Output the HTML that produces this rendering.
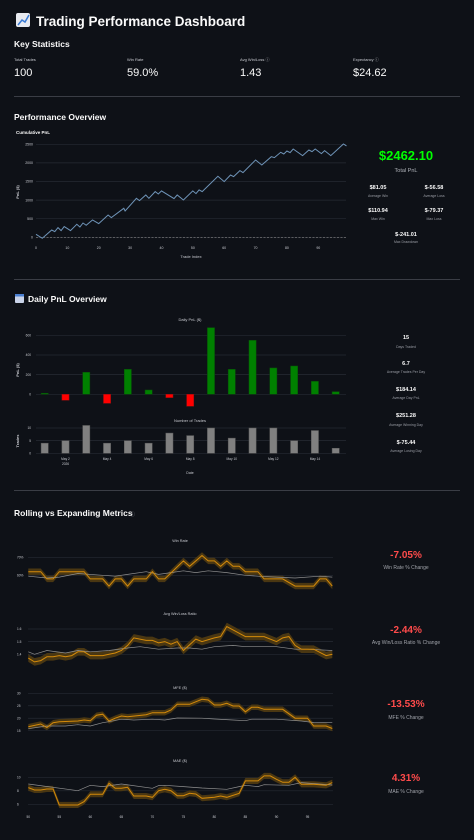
<!DOCTYPE html>
<html><head><meta charset="utf-8"><title>Trading Performance Dashboard</title>
<style>
html,body{margin:0;padding:0;background:#0e1117;width:474px;height:840px;overflow:hidden}
svg{display:block;font-family:"Liberation Sans",sans-serif}
</style></head>
<body>
<svg id="page" width="474" height="840" viewBox="0 0 474 840">
<rect x="0" y="0" width="474" height="840" fill="#0e1117"/>
<g>
<rect x="16" y="13" width="14" height="14" rx="2" fill="#e8eaf0"/>
<polyline points="18,25 22,20 25,22 29,15" fill="none" stroke="#3a7bd5" stroke-width="1.5"/>
</g>
<text x="36" y="26" fill="#fafafa" font-size="13.5" font-weight="bold">Trading Performance Dashboard</text>
<text x="14" y="47" fill="#fafafa" font-size="8.5" font-weight="bold">Key Statistics</text>
<g font-size="4" fill="#c8cad0">
<text x="14" y="61">Total Trades</text>
<text x="127" y="61">Win Rate</text>
<text x="240" y="61">Avg Win/Loss ⓘ</text>
<text x="353" y="61">Expectancy ⓘ</text>
</g>
<g font-size="11" fill="#fafafa">
<text x="14" y="76">100</text>
<text x="127" y="76">59.0%</text>
<text x="240" y="76">1.43</text>
<text x="353" y="76">$24.62</text>
</g>
<rect x="14" y="96" width="446" height="1" fill="#3a3d45"/>

<text x="14" y="120" fill="#fafafa" font-size="8.5" font-weight="bold">Performance Overview</text>
<text x="16" y="134" fill="#fafafa" font-size="4.5" font-weight="bold">Cumulative PnL</text>
<g id="cum"></g>
<g font-weight="bold" text-anchor="middle">
<text x="406" y="160" fill="#00ff00" font-size="13">$2462.10</text>
<text x="406" y="172" fill="#b0b3ba" font-size="5.5" font-weight="normal">Total PnL</text>
<g fill="#fafafa" font-size="5.5">
<text x="378" y="189">$81.05</text>
<text x="434" y="189">$-56.58</text>
<text x="378" y="212">$110.94</text>
<text x="434" y="212">$-79.37</text>
<text x="406" y="236">$-241.01</text>
</g>
<g fill="#9a9da5" font-size="3.5" font-weight="normal">
<text x="378" y="197">Average Win</text>
<text x="434" y="197">Average Loss</text>
<text x="378" y="220">Max Win</text>
<text x="434" y="220">Max Loss</text>
<text x="406" y="243">Max Drawdown</text>
</g>
</g>
<rect x="14" y="279" width="446" height="1" fill="#3a3d45"/>

<g>
<rect x="15" y="294" width="9" height="9" rx="1" fill="#c9d3e8"/>
<rect x="15" y="294" width="9" height="2.5" fill="#4a7fd0"/>
</g>
<text x="28" y="302" fill="#fafafa" font-size="8.5" font-weight="bold">Daily PnL Overview</text>
<g id="daily"></g>
<g id="trades"></g>
<g text-anchor="middle" font-weight="bold">
<g fill="#fafafa" font-size="5.5">
<text x="406" y="339">15</text>
<text x="406" y="365">6.7</text>
<text x="406" y="391">$184.14</text>
<text x="406" y="417">$251.28</text>
<text x="406" y="444">$-75.44</text>
</g>
<g fill="#9a9da5" font-size="3.5" font-weight="normal">
<text x="406" y="348">Days Traded</text>
<text x="406" y="373">Average Trades Per Day</text>
<text x="406" y="399">Average Day PnL</text>
<text x="406" y="426">Average Winning Day</text>
<text x="406" y="452">Average Losing Day</text>
</g>
</g>
<rect x="14" y="490" width="446" height="1" fill="#3a3d45"/>

<text x="14" y="516" fill="#fafafa" font-size="8.5" font-weight="bold">Rolling vs Expanding Metrics</text>
<text x="130" y="516" fill="#8a8d95" font-size="5">ⓘ</text>
<g id="roll"></g>
<g text-anchor="middle">
<g fill="#ff4b4b" font-size="10" font-weight="bold">
<text x="406" y="558">-7.05%</text>
<text x="406" y="633">-2.44%</text>
<text x="406" y="707">-13.53%</text>
<text x="406" y="781">4.31%</text>
</g>
<g fill="#a0a3aa" font-size="5">
<text x="406" y="569">Win Rate % Change</text>
<text x="406" y="644">Avg Win/Loss Ratio % Change</text>
<text x="406" y="719">MFE % Change</text>
<text x="406" y="793">MAE % Change</text>
</g>
</g>
</svg>
<script>
const pnlIdx = [0,2,5,6,7,8,9,11,13,14,15,16,18,20,23,24,28,28.4,32,33,35,36,38,39,40,44,45,47,50,51,52,53,58,60,62,63,65,66,70,72,75,76,78,79,80,81,82,85,87,88,89,91,92,94,98,99];
const pnlVal = [81,-27,197,152,260,179,287,179,349,278,385,323,466,367,600,529,780,708,1048,986,1138,1048,1228,1165,1246,1039,1138,1004,1246,1174,1273,1228,1640,1497,1676,1631,1792,1738,2079,1944,2168,2142,2285,2240,2321,2276,2375,2195,2348,2303,2375,2249,2330,2195,2509,2456];
const pnlYTicks = [0,500,1000,1500,2000,2500];
const pnlXTicks = [0,10,20,30,40,50,60,70,80,90];

const dayLabels = ["May 1","May 2","May 3","May 4","May 5","May 6","May 7","May 8","May 9","May 10","May 11","May 12","May 13","May 14","May 15"];
const dailyPnl = [10,-61,224,-92,254,44,-34,-122,678,254,549,268,288,132,27];
const dailyTrades = [4,5,11,4,5,4,8,7,10,6,10,10,5,9,2];
const dailyYTicks = [0,200,400,600];
const tradesYTicks = [0,5,10];
const dateTickLabels = ["May 2","May 4","May 6","May 8","May 10","May 12","May 14"];

const winIdx = [50,52,53,54,55,59,60,62,63,64,65,66,67,69,70,71,72,75,76,78,79,80,81,82,83,84,85,87,88,91,93,96,97,98,99];
const winRoll = [62,62,58,58,62,62,58,58,54,58,58,54,58,58,62,58,58,68,65,71,68,68,65,68,65,65,62,62,58,58,54,54,58,58,54];
const winExpIdx = [50,53,55,58,62,64,66,69,71,73,75,77,79,82,85,87,90,93,97,99];
const winExp = [59.5,58.5,59,61,60,59.5,60.5,62,60.5,61.5,62.5,61.5,62.5,61.5,60,59.5,59,58.5,59.5,59];

const awlIdx = [50,51,52,53,54,55,56,57,58,59,60,62,63,64,65,66,67,69,70,71,72,73,74,75,77,78,80,81,82,85,87,88,90,91,92,93,94,96,98,99];
const awlRoll = [1.37,1.34,1.35,1.38,1.38,1.39,1.38,1.39,1.42,1.42,1.39,1.39,1.40,1.41,1.43,1.47,1.53,1.51,1.51,1.49,1.50,1.48,1.50,1.43,1.52,1.50,1.53,1.54,1.62,1.54,1.54,1.54,1.50,1.53,1.54,1.47,1.44,1.44,1.39,1.40];
const awlExpIdx = [50,51,53,56,58,60,63,66,68,71,74,76,78,80,83,85,87,90,93,95,99];
const awlExp = [1.42,1.40,1.43,1.41,1.43,1.42,1.43,1.45,1.46,1.44,1.45,1.45,1.44,1.46,1.47,1.46,1.46,1.46,1.44,1.44,1.43];

const mfeIdx = [50,52,53,54,55,58,59,60,61,62,63,64,65,66,69,70,72,73,74,76,78,79,80,81,82,83,84,85,86,87,88,91,93,95,96,98,99];
const mfeRoll = [16.6,17.7,16.3,18.2,18.6,18.9,19.3,19.0,21.2,21.6,18.9,20.0,20.9,20.6,21.4,22.2,22.2,23.3,25.6,25.6,27.6,27.3,25.3,25.3,26.0,24.9,24.9,22.6,24.4,24.4,23.6,23.6,20.0,20.0,16.9,16.9,15.9];
const mfeExpIdx = [50,53,56,58,60,62,63,65,67,70,72,74,78,80,83,85,86,90,94,96,99];
const mfeExp = [15.8,16.9,16.9,17.4,16.9,18.2,18.6,19.6,19.3,19.6,19.3,20.1,20.0,19.7,19.3,19.0,19.6,19.6,18.9,18.3,18.2];

const maeIdx = [50,51,52,53,54,55,58,59,60,62,63,64,65,66,67,69,70,71,72,73,74,75,76,77,78,80,81,82,84,85,87,88,89,90,91,92,93,94,96,98,99];
const maeRoll = [8.47,8.12,8.12,8.27,8.27,5.90,5.90,6.40,7.48,7.48,9.11,8.37,8.37,8.52,7.23,7.23,7.04,8.02,8.22,8.02,7.28,7.28,7.63,7.53,6.89,7.04,7.23,7.04,7.63,9.46,9.46,10.2,10.2,9.7,9.26,9.26,10.0,8.96,8.96,8.81,9.21];
const maeExpIdx = [50,58,60,62,65,70,71,72,75,78,82,84,85,87,88,92,94,99];
const maeExp = [9.01,8.02,8.81,8.62,9.01,8.37,8.77,8.81,8.62,8.42,8.22,8.62,8.81,8.62,8.91,8.81,9.21,8.86];

const rollXTicks = [50,55,60,65,70,75,80,85,90,95];
const winYTicks = [60,70];
const awlYTicks = [1.4,1.5,1.6];
const mfeYTicks = [15,20,25,30];
const maeYTicks = [6,8,10];

const NS = "http://www.w3.org/2000/svg";
function mk(parent, tag, attrs, txt) {
  const e = document.createElementNS(NS, tag);
  for (const k in attrs) e.setAttribute(k, attrs[k]);
  if (txt !== undefined) e.textContent = txt;
  parent.appendChild(e);
  return e;
}
function lin(d0, d1, r0, r1) { return v => r0 + (v - d0) * (r1 - r0) / (d1 - d0); }
function pts(xs, ys, sx, sy) { return xs.map((x, i) => sx(x).toFixed(1) + "," + sy(ys[i]).toFixed(1)).join(" "); }

(function () {
  const g = document.getElementById("cum");
  const sx = lin(0, 90, 36, 318.3), sy = lin(0, 2500, 237.3, 144.3);
  pnlYTicks.forEach(t => {
    const l = mk(g, "line", {x1: 36, x2: 346, y1: sy(t), y2: sy(t), stroke: "#262a33", "stroke-width": 0.7});
    
    
    const tx = mk(g, "text", {x: 33, y: sy(t) + 1.2, fill: "#c8cad0", "font-size": 3.5, "text-anchor": "end"}, String(t));
    
    
  });
  pnlXTicks.forEach(t => {
    const tx = mk(g, "text", {x: sx(t), y: 249, fill: "#c8cad0", "font-size": 3.5, "text-anchor": "middle"}, String(t));
    
    
  });
  const z = mk(g, "line", {x1: 36, x2: 346, y1: sy(0), y2: sy(0), stroke: "#888", "stroke-width": 0.6, "stroke-dasharray": "2,1.5"});
  
  
  const ln = mk(g, "polyline", {points: pts(pnlIdx, pnlVal, sx, sy), fill: "none", stroke: "#6f94b8", "stroke-width": 1});
  
  
  const yt = mk(g, "text", {x: 0, y: 0, fill: "#c8cad0", "font-size": 4, "font-weight": "bold", transform: "translate(19,192) rotate(-90)", "text-anchor": "middle"}, "PnL ($)");
  
  
  const xt = mk(g, "text", {x: 191, y: 258, fill: "#c8cad0", "font-size": 4, "text-anchor": "middle"}, "Trade Index");
  
  
})();

(function () {
  const g = document.getElementById("daily"), g2 = document.getElementById("trades");
  const sx = lin(0, 14, 44.7, 335.7), bw = 7.2;
  const sy = lin(0, 600, 394.3, 335.3);
  const st = lin(0, 10, 453.3, 428);
  const t1 = mk(g, "text", {x: 190, y: 321, fill: "#c8cad0", "font-size": 4, "text-anchor": "middle"}, "Daily PnL ($)");
  
  
  dailyYTicks.forEach(t => {
    const l = mk(g, "line", {x1: 36, x2: 346, y1: sy(t), y2: sy(t), stroke: "#262a33", "stroke-width": 0.7});
    
    
    const tx = mk(g, "text", {x: 31, y: sy(t) + 1.2, fill: "#c8cad0", "font-size": 3.2, "text-anchor": "end"}, String(t));
    
    
  });
  const yt = mk(g, "text", {x: 0, y: 0, fill: "#c8cad0", "font-size": 4, "font-weight": "bold", transform: "translate(19,370) rotate(-90)", "text-anchor": "middle"}, "PnL ($)");
  
  
  dailyPnl.forEach((v, i) => {
    const y0 = sy(0), y1 = sy(v);
    const r = mk(g, "rect", {x: sx(i) - bw / 2, y: Math.min(y0, y1), width: bw, height: Math.max(0.8, Math.abs(y1 - y0)), fill: v >= 0 ? "#008000" : "#ff0000", stroke: v >= 0 ? "#0a4d0a" : "#8a1010", "stroke-width": 0.5});
    
    
  });
  const t2 = mk(g2, "text", {x: 190, y: 422, fill: "#c8cad0", "font-size": 4, "text-anchor": "middle"}, "Number of Trades");
  
  
  tradesYTicks.forEach(t => {
    const l = mk(g2, "line", {x1: 36, x2: 346, y1: st(t), y2: st(t), stroke: "#262a33", "stroke-width": 0.7});
    
    
    const tx = mk(g2, "text", {x: 31, y: st(t) + 1.2, fill: "#c8cad0", "font-size": 3.2, "text-anchor": "end"}, String(t));
    
    
  });
  const yt2 = mk(g2, "text", {x: 0, y: 0, fill: "#c8cad0", "font-size": 4, "font-weight": "bold", transform: "translate(19,441) rotate(-90)", "text-anchor": "middle"}, "Trades");
  
  
  dailyTrades.forEach((v, i) => {
    const r = mk(g2, "rect", {x: sx(i) - bw / 2, y: st(v), width: bw, height: st(0) - st(v), fill: "#808080", stroke: "#5a5a5a", "stroke-width": 0.5});
    
    
  });
  dateTickLabels.forEach(lbl => {
    const i = dayLabels.indexOf(lbl);
    const tx = mk(g2, "text", {x: sx(i), y: 460, fill: "#c8cad0", "font-size": 3.2, "text-anchor": "middle"}, lbl);
    
    
  });
  const yr = mk(g2, "text", {x: sx(1), y: 465, fill: "#c8cad0", "font-size": 3.2, "text-anchor": "middle"}, "2026");
  
  
  const dx = mk(g2, "text", {x: 190, y: 474, fill: "#c8cad0", "font-size": 3.5, "text-anchor": "middle"}, "Date");
  
  
})();

(function () {
  const g = document.getElementById("roll");
  const sx = lin(50, 99, 28.3, 332.3);
  function panel(name, title, titleY, ticks, fmt, d0, y0, d1, y1, xs, roll, exs, exp, band) {
    const sy = lin(d0, d1, y0, y1);
    const t = mk(g, "text", {x: 180, y: titleY, fill: "#c8cad0", "font-size": 3.8, "text-anchor": "middle"}, title);
    
    
    ticks.forEach(v => {
      const l = mk(g, "line", {x1: 28, x2: 333, y1: sy(v), y2: sy(v), stroke: "#262a33", "stroke-width": 0.7});
      
      
      const tx = mk(g, "text", {x: 17, y: sy(v) + 1.1, fill: "#c8cad0", "font-size": 3.2}, fmt(v));
      
      
    });
    const up = xs.map((x, i) => sx(x).toFixed(1) + "," + sy(roll[i] + band).toFixed(1));
    const dn = xs.map((x, i) => sx(x).toFixed(1) + "," + sy(roll[i] - band).toFixed(1)).reverse();
    const b = mk(g, "polygon", {points: up.concat(dn).join(" "), fill: "#4a3712"});
    
    
    const e = mk(g, "polyline", {points: pts(exs, exp, sx, sy), fill: "none", stroke: "#909090", "stroke-width": 0.7});
    
    
    const r = mk(g, "polyline", {points: pts(xs, roll, sx, sy), fill: "none", stroke: "#d48a0a", "stroke-width": 1});
    
    
  }
  panel("win-rate", "Win Rate", 542, winYTicks, v => v + "%", 60, 575.3, 70, 557.3, winIdx, winRoll, winExpIdx, winExp, 1.8);
  panel("avg-win-loss", "Avg Win/Loss Ratio", 615, awlYTicks, v => v.toFixed(1), 1.4, 654.3, 1.6, 629, awlIdx, awlRoll, awlExpIdx, awlExp, 0.03);
  panel("mfe", "MFE ($)", 689, mfeYTicks, v => String(v), 15, 730.7, 30, 693.3, mfeIdx, mfeRoll, mfeExpIdx, mfeExp, 1.1);
  panel("mae", "MAE ($)", 762, maeYTicks, v => String(v), 6, 804.3, 10, 777.3, maeIdx, maeRoll, maeExpIdx, maeExp, 0.45);
  rollXTicks.forEach(v => {
    const tx = mk(g, "text", {x: sx(v), y: 818, fill: "#c8cad0", "font-size": 3.2, "text-anchor": "middle"}, String(v));
    
    
  });
})();
</script>
</body></html>
